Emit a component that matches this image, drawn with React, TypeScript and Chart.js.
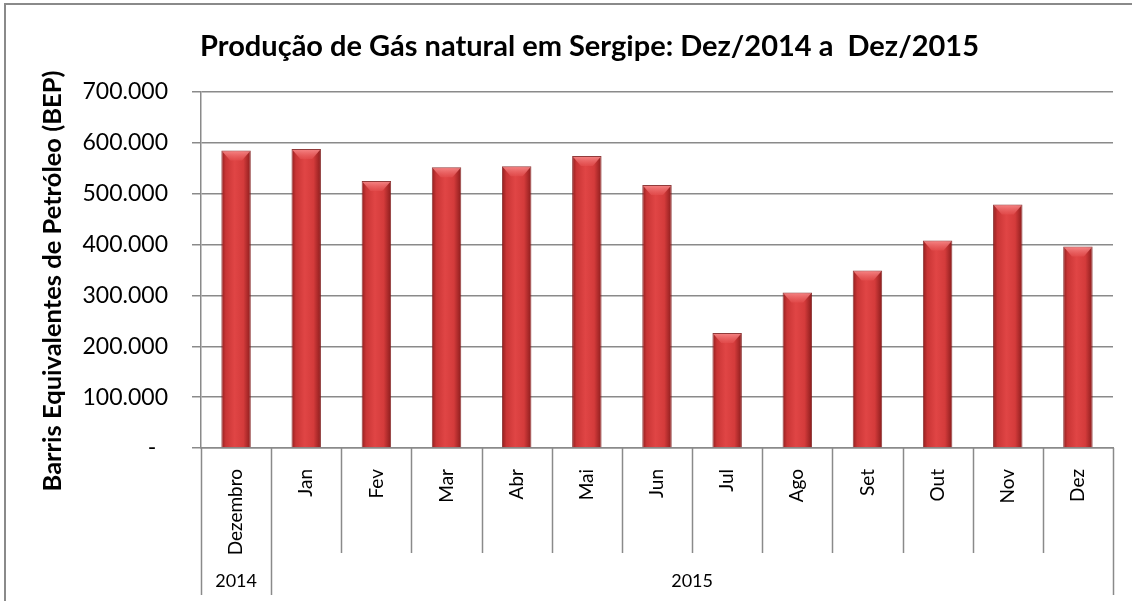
import { useEffect, useRef } from "react";
import { Chart, registerables } from "chart.js";

Chart.register(...registerables);

// ---- data ----
const TITLE = "Produção de Gás natural em Sergipe: Dez/2014 a  Dez/2015";
const Y_TITLE = "Barris Equivalentes de Petróleo (BEP)";
const categories = ["Dezembro", "Jan", "Fev", "Mar", "Abr", "Mai", "Jun", "Jul", "Ago", "Set", "Out", "Nov", "Dez"];
const values = [585000, 588000, 525000, 552000, 554000, 574000, 517000, 226000, 306000, 349000, 408000, 479000, 396000];
const yearLabels = ["2014", "2015"];
const yearSpans = [1, 12];
const Y_MIN = 0;
const Y_MAX = 700000;
const Y_STEP = 100000;

// ---- style ----
const FONT = "Lato, 'Open Sans', sans-serif";
const GRID = "#8a8a8a";
const BAR_PCT = 0.42;
const MONTH_ROW_BOTTOM = 553;
const YEAR_ROW_BOTTOM = 595;

const fmt = (v: number) =>
  v === 0 ? "-  " : String(Math.round(v)).replace(/\B(?=(\d{3})+(?!\d))/g, ".");

const decorPlugin = {
  id: "decor",
  beforeDraw(chart: any) {
    const ctx = chart.ctx as CanvasRenderingContext2D;
    ctx.save();
    ctx.fillStyle = "#ffffff";
    ctx.fillRect(0, 0, chart.width, chart.height);
    ctx.strokeStyle = GRID;
    ctx.lineWidth = 2;
    ctx.beginPath();
    ctx.moveTo(5, chart.height);
    ctx.lineTo(5, 4);
    ctx.lineTo(chart.width, 4);
    ctx.stroke();
    ctx.restore();
  },
  afterDatasetsDraw(chart: any) {
    const ctx = chart.ctx as CanvasRenderingContext2D;
    const meta = chart.getDatasetMeta(0);
    ctx.save();
    meta.data.forEach((el: any) => {
      const { x, y, width } = el.getProps(["x", "y", "width"], true);
      const l = x - width / 2 + 1;
      const r = x + width / 2 - 1;
      const g = ctx.createLinearGradient(0, y, 0, y + 10);
      g.addColorStop(0, "rgba(248,140,140,0.95)");
      g.addColorStop(1, "rgba(228,80,80,0.6)");
      ctx.fillStyle = g;
      ctx.beginPath();
      ctx.moveTo(l, y + 1);
      ctx.lineTo(r, y + 1);
      ctx.lineTo(x + width * 0.2, y + 10);
      ctx.lineTo(x - width * 0.2, y + 10);
      ctx.closePath();
      ctx.fill();
    });
    ctx.restore();
  },
  afterDraw(chart: any) {
    const ctx = chart.ctx as CanvasRenderingContext2D;
    const area = chart.chartArea;
    const xs = chart.scales.x;
    ctx.save();
    // chart title
    ctx.fillStyle = "#000";
    ctx.font = `bold 29px ${FONT}`;
    ctx.textAlign = "center";
    ctx.textBaseline = "alphabetic";
    ctx.fillText(TITLE, 589.5, 56);
    // y title
    ctx.save();
    ctx.translate(53, 281);
    ctx.rotate(-Math.PI / 2);
    ctx.font = `bold 25.5px ${FONT}`;
    ctx.textBaseline = "middle";
    ctx.fillText(Y_TITLE, 0, 0);
    ctx.restore();
    // category dividers
    const n = categories.length;
    const half = (xs.getPixelForValue(1) - xs.getPixelForValue(0)) / 2;
    const bound = (i: number) =>
      i < n ? xs.getPixelForValue(i) - half : xs.getPixelForValue(n - 1) + half;
    const groupEdges = new Set<number>();
    let acc = 0;
    groupEdges.add(0);
    yearSpans.forEach((s) => {
      acc += s;
      groupEdges.add(acc);
    });
    ctx.strokeStyle = GRID;
    ctx.lineWidth = 1.5;
    for (let i = 0; i <= n; i++) {
      const bx = Math.round(bound(i)) + 0.5;
      ctx.beginPath();
      ctx.moveTo(bx, area.bottom);
      ctx.lineTo(bx, groupEdges.has(i) ? YEAR_ROW_BOTTOM : MONTH_ROW_BOTTOM);
      ctx.stroke();
    }
    // year labels
    ctx.font = `18px ${FONT}`;
    ctx.textAlign = "center";
    ctx.textBaseline = "middle";
    let start = 0;
    yearLabels.forEach((lab, gi) => {
      const end = start + yearSpans[gi];
      const cx = (bound(start) + bound(end)) / 2;
      ctx.fillText(lab, cx, 581);
      start = end;
    });
    ctx.restore();
  },
};

export default function App() {
  const ref = useRef<HTMLCanvasElement>(null);
  useEffect(() => {
    const chart = new Chart(ref.current!, {
      type: "bar",
      data: {
        labels: categories,
        datasets: [
          {
            data: values,
            barPercentage: BAR_PCT,
            categoryPercentage: 1,
            borderColor: "rgba(125,25,25,0.85)",
            borderWidth: 1,
            backgroundColor: (c: any) => {
              const chart = c.chart;
              const xs = chart.scales && chart.scales.x;
              if (!xs || c.type !== "data" || !xs.width) return "#cc3a3a";
              const cx = xs.getPixelForValue(c.dataIndex);
              const w = (xs.width / categories.length) * BAR_PCT;
              const g = chart.ctx.createLinearGradient(cx - w / 2, 0, cx + w / 2, 0);
              g.addColorStop(0, "#901e1e");
              g.addColorStop(0.15, "#c93535");
              g.addColorStop(0.45, "#e04545");
              g.addColorStop(0.75, "#d43b3b");
              g.addColorStop(1, "#8a1c1c");
              return g;
            },
          },
        ],
      },
      options: {
        responsive: false,
        animation: false,
        devicePixelRatio: 1,
        layout: { padding: { left: 0, right: 19, top: 92, bottom: 0 } },
        plugins: {
          legend: { display: false },
          tooltip: { enabled: false },
          title: { display: false },
        },
        scales: {
          x: {
            grid: { display: false },
            border: { display: true, color: GRID, width: 1.5 },
            ticks: {
              autoSkip: false,
              minRotation: 90,
              maxRotation: 90,
              padding: 13,
              color: "#000",
              font: { family: FONT, size: 19 },
            },
            afterFit: (s: any) => {
              s.height = 153;
            },
          },
          y: {
            min: Y_MIN,
            max: Y_MAX,
            ticks: {
              stepSize: Y_STEP,
              padding: 24,
              color: "#000",
              font: { family: FONT, size: 23 },
              callback: (v: any) => fmt(Number(v)),
            },
            grid: { color: GRID, lineWidth: 1.5, tickLength: 9, drawTicks: true },
            border: { color: GRID, width: 1.5 },
            afterFit: (s: any) => {
              s.width = 201;
            },
          },
        },
      },
      plugins: [decorPlugin],
    });
    return () => chart.destroy();
  }, []);
  return (
    <div style={{ position: "fixed", left: 0, top: 0, width: 1132, height: 601, background: "#fff" }}>
      <canvas ref={ref} width={1132} height={601} style={{ display: "block" }} />
    </div>
  );
}
